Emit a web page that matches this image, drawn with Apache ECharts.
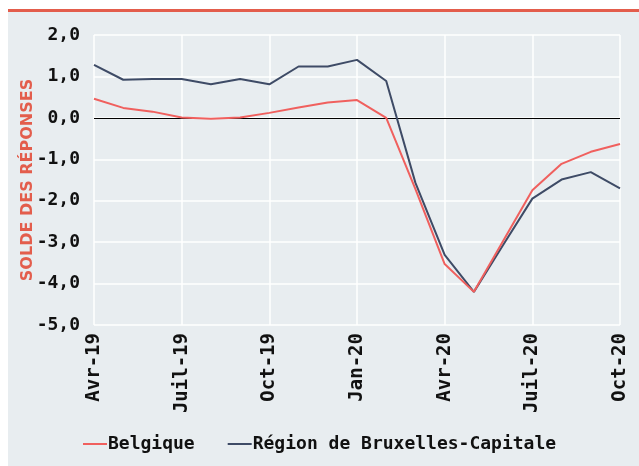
<!DOCTYPE html>
<html>
<head>
<meta charset="utf-8">
<script src="https://cdn.jsdelivr.net/npm/echarts@6/dist/echarts.min.js"></script>
<style>
  html, body { margin: 0; padding: 0; background: #fff; }
  #chart { width: 639px; height: 466px; }
</style>
</head>
<body>
<div id="chart"></div>
<script>
var months = ['Avr-19', 'Mai-19', 'Juin-19', 'Juil-19', 'Août-19', 'Sep-19', 'Oct-19', 'Nov-19', 'Déc-19',
  'Jan-20', 'Fév-20', 'Mar-20', 'Avr-20', 'Mai-20', 'Juin-20', 'Juil-20', 'Août-20', 'Sep-20', 'Oct-20']
var belgique = [0.46, 0.24, 0.15, 0.01, -0.02, 0.01, 0.12, 0.25, 0.37, 0.43, 0.0, -1.72, -3.53, -4.2, -2.97, -1.75, -1.11, -0.82, -0.63]
var bruxelles = [1.28, 0.92, 0.94, 0.94, 0.81, 0.94, 0.81, 1.24, 1.24, 1.4, 0.89, -1.57, -3.31, -4.2, -3.07, -1.95, -1.49, -1.31, -1.7]
var seriesNames = ['Belgique', 'Région de Bruxelles-Capitale']

var mono = 'DejaVu Sans Mono'
var chart = echarts.init(document.getElementById('chart'))

var option = {
  animation: false,
  color: ['#f0605e', '#3e4b66'],
  graphic: [
    { type: 'rect', left: 8, top: 12, shape: { width: 631, height: 454 }, style: { fill: '#e8edf0' }, z: -10 },
    { type: 'rect', left: 8, top: 9, shape: { width: 631, height: 3 }, style: { fill: '#e35d4c' }, z: -10 }
  ],
  grid: {
    left: 94,
    right: 19,
    top: 35,
    bottom: 141
  },
  legend: {
    data: seriesNames,
    bottom: 8,
    left: 78,
    icon: 'rect',
    itemWidth: 24,
    itemHeight: 2,
    itemGap: 33,
    textStyle: {
      fontFamily: mono,
      fontWeight: 'bold',
      fontSize: 18,
      color: '#111',
      padding: [0, 0, 0, -4]
    }
  },
  xAxis: {
    type: 'category',
    boundaryGap: false,
    data: months,
    axisLine: { show: false },
    axisTick: { show: false },
    splitLine: {
      show: true,
      interval: 2,
      lineStyle: { color: '#ffffff', width: 1.5 }
    },
    axisLabel: {
      interval: 2,
      rotate: 90,
      margin: 8,
      fontFamily: mono,
      fontWeight: 'bold',
      fontSize: 19,
      color: '#111'
    }
  },
  yAxis: {
    type: 'value',
    min: -5,
    max: 2,
    interval: 1,
    name: 'SOLDE DES RÉPONSES',
    nameLocation: 'middle',
    nameGap: 58,
    nameMoveOverlap: false,
    nameTextStyle: {
      fontFamily: 'DejaVu Sans',
      fontWeight: 'bold',
      fontSize: 16,
      color: '#e35d4c'
    },
    axisLine: { show: false },
    axisTick: { show: false },
    splitLine: { lineStyle: { color: '#ffffff', width: 1.5 } },
    axisLabel: {
      margin: 14,
      fontFamily: mono,
      fontWeight: 'bold',
      fontSize: 18,
      color: '#111',
      formatter: function (v) {
        return v.toFixed(1).replace('.', ',')
      }
    }
  },
  series: [
    {
      name: seriesNames[0],
      type: 'line',
      data: belgique,
      showSymbol: false,
      symbol: 'none',
      lineStyle: { width: 2 },
      z: 3,
      markLine: {
        silent: true,
        symbol: 'none',
        label: { show: false },
        lineStyle: { color: '#000', width: 1, type: 'solid' },
        data: [{ yAxis: 0 }],
        z: 1
      }
    },
    {
      name: seriesNames[1],
      type: 'line',
      data: bruxelles,
      showSymbol: false,
      symbol: 'none',
      lineStyle: { width: 2 },
      z: 2
    }
  ]
}

chart.setOption(option)
</script>
</body>
</html>
